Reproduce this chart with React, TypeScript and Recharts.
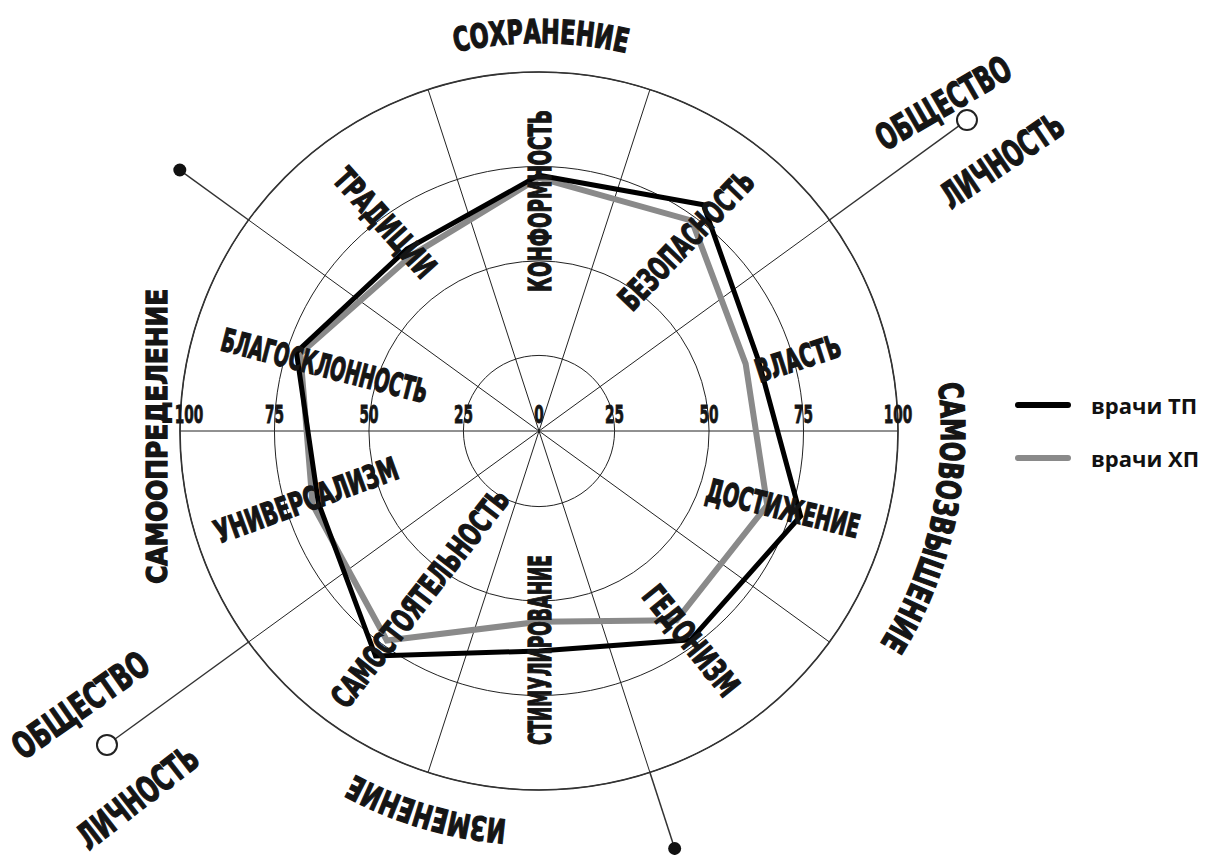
import React from 'react';
import { RadarChart, Radar, PolarGrid, PolarAngleAxis, PolarRadiusAxis, Legend, Customized } from 'recharts';

// values
const categories = ['КОНФОРМНОСТЬ', 'БЕЗОПАСНОСТЬ', 'ВЛАСТЬ', 'ДОСТИЖЕНИЕ', 'ГЕДОНИЗМ', 'СТИМУЛИРОВАНИЕ', 'САМОСТОЯТЕЛЬНОСТЬ', 'УНИВЕРСАЛИЗМ', 'БЛАГОСКЛОННОСТЬ', 'ТРАДИЦИИ'];
const tpValues = [72.7, 79, 66, 77.8, 73.3, 63.2, 78.6, 66.4, 72.5, 64.5];
const hpValues = [72, 73.8, 62.5, 68.5, 66.9, 55.5, 73.5, 68, 71.4, 62.4];
const radiusTicks = [25, 50, 75, 100];
const seriesNames = { tp: 'врачи ТП', hp: 'врачи ХП' };
const groupLabels = ['СОХРАНЕНИЕ', 'САМОВОЗВЫШЕНИЕ', 'ИЗМЕНЕНИЕ', 'САМООПРЕДЕЛЕНИЕ'];
const poleLabels = ['ОБЩЕСТВО', 'ЛИЧНОСТЬ'];

const data = categories.map((name, i) => ({ name, tp: tpValues[i], hp: hpValues[i] }));

// layout
const W = 1210, H = 855;
const CX = 539, CY = 431, R = 359;
const FONT = "'Liberation Sans Narrow', 'Arial Narrow', 'DejaVu Sans Condensed', Roboto, sans-serif";
const INK = '#151515';

const rad = (d: number) => (d * Math.PI) / 180;
const polar = (deg: number, r: number) => ({ x: CX + r * Math.cos(rad(deg)), y: CY - r * Math.sin(rad(deg)) });

// where each value name sits (angle, radius), its tilt and length
const labelLayout = [
  { at: 90, r: 230, rot: -90, len: 182 },
  { at: 52.4, r: 241, rot: -46, len: 179 },
  { at: 15.7, r: 269, rot: -18, len: 88 },
  { at: -17.5, r: 256, rot: 14, len: 157 },
  { at: -54, r: 259, rot: 51, len: 132 },
  { at: -90, r: 219, rot: -90, len: 190 },
  { at: -125.5, r: 205, rot: -52, len: 267 },
  { at: -163.5, r: 243, rot: -20, len: 193 },
  { at: 163, r: 224, rot: 14.5, len: 212 },
  { at: 126.5, r: 259, rot: 48, len: 135 },
];

const groupLayout = [
  { mid: 89.7, r: 388, len: 172, arc: true, rot: 0 },
  { mid: -12.6, r: 402, len: 272, arc: true, rot: 0 },
  { mid: -106.5, r: 390, len: 160, arc: true, rot: 0 },
  { mid: 180.8, r: 382, len: 295, arc: false, rot: -90 },
];

const poleLines = [
  { angle: 36, r: 529, open: true },
  { angle: 144, r: 444, open: false },
  { angle: 216, r: 534, open: true },
  { angle: 288, r: 439, open: false },
];

const poleText = [
  { axis: 36, along: 520, off: 28, rot: -30, len: 150, label: 0 },
  { axis: 36, along: 534, off: -53, rot: -34, len: 140, label: 1 },
  { axis: 216, along: 532, off: 48, rot: -35, len: 158, label: 0 },
  { axis: 216, along: 540, off: -60, rot: -38, len: 143, label: 1 },
];

const heavy = { fontFamily: FONT, fontWeight: 700, fill: INK, stroke: INK, strokeWidth: 1.3 };

const arcPath = (mid: number, r: number) => {
  const a = polar(mid + 40, r);
  const b = polar(mid - 40, r);
  return `M${a.x},${a.y} A${r},${r} 0 0 1 ${b.x},${b.y}`;
};

const AngleTick = (props: any) => {
  const i = props.index ?? props.payload?.index ?? 0;
  const l = labelLayout[i];
  const p = polar(l.at, l.r);
  return (
    <text x={p.x} y={p.y} dy="0.36em" textAnchor="middle" fontSize={32} {...heavy}
      textLength={l.len} lengthAdjust="spacingAndGlyphs"
      transform={`rotate(${l.rot}, ${p.x}, ${p.y})`}>
      {props.payload.value}
    </text>
  );
};

const TickNum = ({ x, v }: { x: number; v: number }) => {
  const s = String(v);
  return (
    <text x={x} y={CY - 8} textAnchor="middle" fontSize={25} {...heavy} strokeWidth={0.8}
      textLength={s.length * 9.5} lengthAdjust="spacingAndGlyphs">{s}</text>
  );
};

const RadiusTick = (props: any) => {
  const dx = props.x - CX;
  const v = props.payload.value;
  return (
    <g>
      <TickNum x={CX + dx} v={v} />
      <TickNum x={CX - dx + (v === 100 ? 9 : 0)} v={v} />
    </g>
  );
};

const Decor = () => (
  <g>
    <defs>
      {groupLayout.map((g, i) => (g.arc ? <path key={i} id={`grp-arc-${i}`} d={arcPath(g.mid, g.r)} fill="none" /> : null))}
    </defs>
    <circle cx={CX} cy={CY} r={R} fill="none" stroke="#333" strokeWidth={1.6} />
    {poleLines.map((l, i) => {
      const a = polar(l.angle, R);
      const b = polar(l.angle, l.r - (l.open ? 10 : 0));
      const c = polar(l.angle, l.r);
      return (
        <g key={i}>
          <line x1={a.x} y1={a.y} x2={b.x} y2={b.y} stroke="#333" strokeWidth={1.5} />
          {l.open
            ? <circle cx={c.x} cy={c.y} r={10} fill="#fff" stroke="#222" strokeWidth={2} />
            : <circle cx={c.x} cy={c.y} r={6.5} fill="#111" />}
        </g>
      );
    })}
    {groupLayout.map((g, i) => {
      if (g.arc) {
        return (
          <text key={i} fontSize={33} {...heavy}>
            <textPath href={`#grp-arc-${i}`} startOffset="50%" textAnchor="middle" textLength={g.len} lengthAdjust="spacingAndGlyphs">
              {groupLabels[i]}
            </textPath>
          </text>
        );
      }
      const p = polar(g.mid, g.r);
      return (
        <text key={i} x={p.x} y={p.y} dy="0.36em" textAnchor="middle" fontSize={28} {...heavy}
          textLength={g.len} lengthAdjust="spacingAndGlyphs" transform={`rotate(${g.rot}, ${p.x}, ${p.y})`}>
          {groupLabels[i]}
        </text>
      );
    })}
    {poleText.map((t, i) => {
      const b = polar(t.axis, t.along);
      const x = b.x + t.off * Math.cos(rad(126));
      const y = b.y - t.off * Math.sin(rad(126));
      return (
        <text key={i} x={x} y={y} dy="0.36em" textAnchor="middle" fontSize={36} {...heavy}
          textLength={t.len} lengthAdjust="spacingAndGlyphs" transform={`rotate(${t.rot}, ${x}, ${y})`}>
          {poleLabels[t.label]}
        </text>
      );
    })}
    <TickNum x={CX} v={0} />
  </g>
);

const seriesOrder = ['tp', 'hp'];

const renderLegend = (props: any) => {
  const items = [...(props.payload || [])].sort((a, b) => seriesOrder.indexOf(a.dataKey) - seriesOrder.indexOf(b.dataKey));
  return (
    <div style={{ fontFamily: "'Open Sans', 'Noto Sans', sans-serif", fontWeight: 700, fontSize: 22, color: '#111' }}>
      {items.map((p: any) => (
        <div key={p.dataKey} style={{ display: 'flex', alignItems: 'center', height: 53 }}>
          <svg width={58} height={10}>
            <line x1={4} y1={5} x2={54} y2={5} stroke={p.color} strokeWidth={6} strokeLinecap="round" />
          </svg>
          <span style={{ marginLeft: 19 }}>{p.value}</span>
        </div>
      ))}
    </div>
  );
};

export default function App() {
  return (
    <div style={{ position: 'absolute', left: 0, top: 0, width: W, height: H, background: '#fff' }}>
      <RadarChart width={W} height={H} data={data} cx={CX} cy={CY} innerRadius={0} outerRadius={R}
        startAngle={90} endAngle={-270} margin={{ top: 0, right: 0, bottom: 0, left: 0 }}>
        <PolarGrid gridType="circle" stroke="#222" strokeWidth={1}
          polarAngles={categories.map((_, i) => 72 - 36 * i)} />
        <PolarRadiusAxis angle={0} type="number" domain={[5, 100]} ticks={radiusTicks} allowDataOverflow
          axisLine={false} tick={RadiusTick} />
        <PolarAngleAxis dataKey="name" axisLine={false} tickLine={false} tick={AngleTick} />
        <Customized component={<Decor />} />
        <Radar name={seriesNames.hp} dataKey="hp" stroke="#8a8a8a" strokeWidth={6} fill="none" fillOpacity={0}
          dot={false} isAnimationActive={false} />
        <Radar name={seriesNames.tp} dataKey="tp" stroke="#000" strokeWidth={5} fill="none" fillOpacity={0}
          dot={false} isAnimationActive={false} />
        <Legend content={renderLegend} wrapperStyle={{ left: 1014, top: 378, width: 196 }} />
      </RadarChart>
    </div>
  );
}
